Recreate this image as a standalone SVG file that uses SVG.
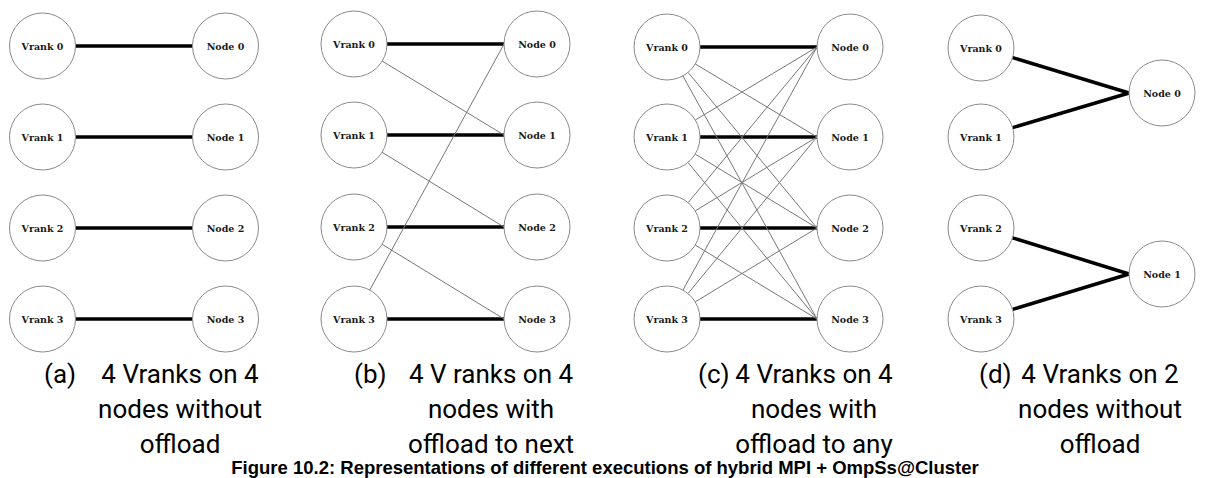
<svg xmlns="http://www.w3.org/2000/svg" width="1208" height="478" viewBox="0 0 1208 478">
<style>
.n circle{fill:#fff;stroke:#8a8a8a;stroke-width:1}
.n text{font-family:"DejaVu Serif",serif;font-weight:bold;font-size:9.5px;fill:#1a1a1a;text-anchor:middle}
.thick{stroke:#000;stroke-width:3.5;fill:none}
.thin{stroke:#777;stroke-width:1;fill:none}
.cap{font-family:Roboto,"Liberation Sans",sans-serif;font-size:26px;fill:#000}
.capm{text-anchor:middle}
.fig{font-family:"Liberation Sans",Arial,sans-serif;font-weight:bold;font-size:18.5px;fill:#000;text-anchor:middle}
</style>
<g id="connectors">
<line class="thick" x1="75.5" y1="46" x2="192.5" y2="46"/>
<line class="thick" x1="75.5" y1="137" x2="192.5" y2="137"/>
<line class="thick" x1="75.5" y1="228" x2="192.5" y2="228"/>
<line class="thick" x1="75.5" y1="319" x2="192.5" y2="319"/>
<line class="thick" x1="387" y1="44" x2="504" y2="44"/>
<line class="thick" x1="387" y1="135" x2="504" y2="135"/>
<line class="thick" x1="387" y1="227" x2="504" y2="227"/>
<line class="thick" x1="387" y1="319" x2="504" y2="319"/>
<line class="thin" x1="382.2" y1="61.1" x2="504" y2="135"/>
<line class="thin" x1="382.1" y1="152.3" x2="504" y2="227"/>
<line class="thin" x1="382.1" y1="244.3" x2="504" y2="319"/>
<line class="thin" x1="369.8" y1="290" x2="504" y2="44"/>
<line class="thick" x1="700" y1="47" x2="817" y2="47"/>
<line class="thick" x1="700" y1="137" x2="817" y2="137"/>
<line class="thick" x1="700" y1="228" x2="817" y2="228"/>
<line class="thick" x1="700" y1="319" x2="817" y2="319"/>
<line class="thin" x1="695.3" y1="64" x2="817" y2="137"/>
<line class="thin" x1="688.1" y1="72.4" x2="817" y2="228"/>
<line class="thin" x1="682.9" y1="75.9" x2="817" y2="319"/>
<line class="thin" x1="695.3" y1="120" x2="817" y2="47"/>
<line class="thin" x1="695.2" y1="154.1" x2="817" y2="228"/>
<line class="thin" x1="688" y1="162.5" x2="817" y2="319"/>
<line class="thin" x1="688.1" y1="202.6" x2="817" y2="47"/>
<line class="thin" x1="695.2" y1="210.9" x2="817" y2="137"/>
<line class="thin" x1="695.2" y1="245.1" x2="817" y2="319"/>
<line class="thin" x1="682.9" y1="290.1" x2="817" y2="47"/>
<line class="thin" x1="688" y1="293.5" x2="817" y2="137"/>
<line class="thin" x1="695.2" y1="301.9" x2="817" y2="228"/>
<line class="thick" x1="1012.6" y1="57.6" x2="1129" y2="93"/>
<line class="thick" x1="1012.6" y1="127.6" x2="1129" y2="93"/>
<line class="thick" x1="1012.5" y1="237.8" x2="1129" y2="274"/>
<line class="thick" x1="1012.6" y1="309.4" x2="1129" y2="274"/>
</g>
<g id="a-vrank0" class="n"><circle cx="42.5" cy="46" r="33"/><text x="42.5" y="49.5">Vrank 0</text></g>
<g id="a-vrank1" class="n"><circle cx="42.5" cy="137" r="33"/><text x="42.5" y="140.5">Vrank 1</text></g>
<g id="a-vrank2" class="n"><circle cx="42.5" cy="228" r="33"/><text x="42.5" y="231.5">Vrank 2</text></g>
<g id="a-vrank3" class="n"><circle cx="42.5" cy="319" r="33"/><text x="42.5" y="322.5">Vrank 3</text></g>
<g id="a-node0" class="n"><circle cx="225.5" cy="46" r="33"/><text x="225.5" y="49.5">Node 0</text></g>
<g id="a-node1" class="n"><circle cx="225.5" cy="137" r="33"/><text x="225.5" y="140.5">Node 1</text></g>
<g id="a-node2" class="n"><circle cx="225.5" cy="228" r="33"/><text x="225.5" y="231.5">Node 2</text></g>
<g id="a-node3" class="n"><circle cx="225.5" cy="319" r="33"/><text x="225.5" y="322.5">Node 3</text></g>
<g id="b-vrank0" class="n"><circle cx="354" cy="44" r="33"/><text x="354" y="47.5">Vrank 0</text></g>
<g id="b-vrank1" class="n"><circle cx="354" cy="135" r="33"/><text x="354" y="138.5">Vrank 1</text></g>
<g id="b-vrank2" class="n"><circle cx="354" cy="227" r="33"/><text x="354" y="230.5">Vrank 2</text></g>
<g id="b-vrank3" class="n"><circle cx="354" cy="319" r="33"/><text x="354" y="322.5">Vrank 3</text></g>
<g id="b-node0" class="n"><circle cx="537" cy="44" r="33"/><text x="537" y="47.5">Node 0</text></g>
<g id="b-node1" class="n"><circle cx="537" cy="135" r="33"/><text x="537" y="138.5">Node 1</text></g>
<g id="b-node2" class="n"><circle cx="537" cy="227" r="33"/><text x="537" y="230.5">Node 2</text></g>
<g id="b-node3" class="n"><circle cx="537" cy="319" r="33"/><text x="537" y="322.5">Node 3</text></g>
<g id="c-vrank0" class="n"><circle cx="667" cy="47" r="33"/><text x="667" y="50.5">Vrank 0</text></g>
<g id="c-vrank1" class="n"><circle cx="667" cy="137" r="33"/><text x="667" y="140.5">Vrank 1</text></g>
<g id="c-vrank2" class="n"><circle cx="667" cy="228" r="33"/><text x="667" y="231.5">Vrank 2</text></g>
<g id="c-vrank3" class="n"><circle cx="667" cy="319" r="33"/><text x="667" y="322.5">Vrank 3</text></g>
<g id="c-node0" class="n"><circle cx="850" cy="47" r="33"/><text x="850" y="50.5">Node 0</text></g>
<g id="c-node1" class="n"><circle cx="850" cy="137" r="33"/><text x="850" y="140.5">Node 1</text></g>
<g id="c-node2" class="n"><circle cx="850" cy="228" r="33"/><text x="850" y="231.5">Node 2</text></g>
<g id="c-node3" class="n"><circle cx="850" cy="319" r="33"/><text x="850" y="322.5">Node 3</text></g>
<g id="d-vrank0" class="n"><circle cx="981" cy="48" r="33"/><text x="981" y="51.5">Vrank 0</text></g>
<g id="d-vrank1" class="n"><circle cx="981" cy="137" r="33"/><text x="981" y="140.5">Vrank 1</text></g>
<g id="d-vrank2" class="n"><circle cx="981" cy="228" r="33"/><text x="981" y="231.5">Vrank 2</text></g>
<g id="d-vrank3" class="n"><circle cx="981" cy="319" r="33"/><text x="981" y="322.5">Vrank 3</text></g>
<g id="d-node0" class="n"><circle cx="1162" cy="93" r="33"/><text x="1162" y="96.5">Node 0</text></g>
<g id="d-node1" class="n"><circle cx="1162" cy="274" r="33"/><text x="1162" y="277.5">Node 1</text></g>
<g id="captions">
<text class="cap" x="44" y="383">(a)</text>
<text class="cap capm" x="180" y="383">4 Vranks on 4</text>
<text class="cap capm" x="180" y="418">nodes without</text>
<text class="cap capm" x="180" y="453">offload</text>
<text class="cap" x="354" y="383">(b)</text>
<text class="cap capm" x="491" y="383">4 V ranks on 4</text>
<text class="cap capm" x="491" y="418">nodes with</text>
<text class="cap capm" x="491" y="453">offload to next</text>
<text class="cap" x="698" y="383">(c)</text>
<text class="cap capm" x="814" y="383">4 Vranks on 4</text>
<text class="cap capm" x="814" y="418">nodes with</text>
<text class="cap capm" x="814" y="453">offload to any</text>
<text class="cap" x="979" y="383">(d)</text>
<text class="cap capm" x="1100" y="383">4 Vranks on 2</text>
<text class="cap capm" x="1100" y="418">nodes without</text>
<text class="cap capm" x="1100" y="453">offload</text>
<text class="fig" x="605" y="474">Figure 10.2: Representations of different executions of hybrid MPI + OmpSs@Cluster</text>
</g>
</svg>
